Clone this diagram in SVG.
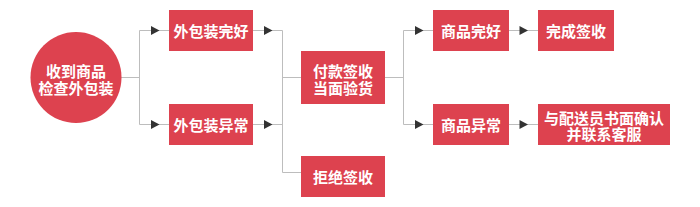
<svg xmlns="http://www.w3.org/2000/svg" width="700" height="207" viewBox="0 0 700 207">
<defs>
<style>
.n{fill:#dd424f}
.t{fill:#fff;font-family:"Noto Sans CJK SC","Noto Sans",sans-serif;font-size:15px;font-weight:bold;text-anchor:middle;dominant-baseline:central}
.c{fill:none;stroke:#bdbdbd;stroke-width:1}
.a{fill:#333}
</style>
</defs>
<rect width="700" height="207" fill="#fff"/>
<g id="connectors">
<path class="c" d="M121 77.5H139.5M139.5 30.5V124.5M139.5 30.5H169M139.5 124.5H169"/>
<path class="c" d="M253 30.5H282.5M253 124.5H282.5M282.5 30.5V172.5M282.5 77.5H301M282.5 172.5H301"/>
<path class="c" d="M385 77.5H403.5M403.5 30.5V124.5M403.5 30.5H433M403.5 124.5H433"/>
<path class="c" d="M509 30.5H538M509 124.5H538"/>
<polygon class="a" points="151,26 159.5,30.5 151,35"/>
<polygon class="a" points="151,120 159.5,124.5 151,129"/>
<polygon class="a" points="264,26 272.5,30.5 264,35"/>
<polygon class="a" points="264,120 272.5,124.5 264,129"/>
<polygon class="a" points="415,26 423.5,30.5 415,35"/>
<polygon class="a" points="415,120 423.5,124.5 415,129"/>
<polygon class="a" points="519.5,26 528,30.5 519.5,35"/>
<polygon class="a" points="519.5,120 528,124.5 519.5,129"/>
</g>
<g id="start">
<circle class="n" cx="76" cy="77.5" r="45.5"/>
<text class="t"><tspan x="76" y="70">收到商品</tspan><tspan x="76" y="87">检查外包装</tspan></text>
</g>
<g id="pkg-ok">
<rect class="n" x="169" y="10" width="84" height="41"/>
<text class="t" x="211" y="30.5">外包装完好</text>
</g>
<g id="pkg-bad">
<rect class="n" x="169" y="104" width="84" height="41"/>
<text class="t" x="211" y="124.5">外包装异常</text>
</g>
<g id="pay">
<rect class="n" x="301" y="51" width="84" height="53"/>
<text class="t"><tspan x="343" y="70">付款签收</tspan><tspan x="343" y="87">当面验货</tspan></text>
</g>
<g id="reject">
<rect class="n" x="301" y="156" width="84" height="41"/>
<text class="t" x="343" y="176.5">拒绝签收</text>
</g>
<g id="goods-ok">
<rect class="n" x="433" y="10" width="76" height="41"/>
<text class="t" x="471" y="30.5">商品完好</text>
</g>
<g id="goods-bad">
<rect class="n" x="433" y="104" width="76" height="41"/>
<text class="t" x="471" y="124.5">商品异常</text>
</g>
<g id="done">
<rect class="n" x="538" y="10" width="76" height="41"/>
<text class="t" x="576" y="30.5">完成签收</text>
</g>
<g id="contact">
<rect class="n" x="538" y="104" width="132" height="41"/>
<text class="t"><tspan x="604" y="116.5">与配送员书面确认</tspan><tspan x="604" y="133">并联系客服</tspan></text>
</g>
</svg>
